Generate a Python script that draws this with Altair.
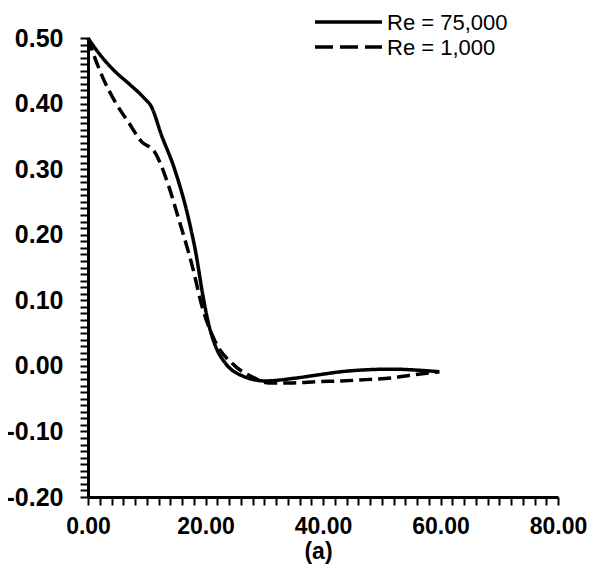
import altair as alt
import pandas as pd

series_names = ["Re = 75,000", "Re = 1,000"]

x_solid = [0, 2, 4.6, 7, 9.6, 10.8, 12.5, 14.7, 17.1, 18.4, 19.5, 20.5, 21.7, 23.3, 26.2, 30.2, 35, 39, 43, 47.4, 52, 55, 59.8]
y_solid = [0.50, 0.475, 0.449, 0.43, 0.408, 0.395, 0.352, 0.301, 0.225, 0.17, 0.11, 0.065, 0.03, 0.005, -0.015, -0.023, -0.019, -0.014, -0.009, -0.006, -0.005, -0.006, -0.009]

x_dash = [0, 1.2, 2.5, 4.6, 7, 9.1, 11.3, 13.7, 15.4, 17.7, 19.5, 21.5, 25, 28, 30.8, 35, 39, 43, 47.4, 52, 55, 59.8]
y_dash = [0.50, 0.469, 0.44, 0.403, 0.37, 0.342, 0.327, 0.275, 0.225, 0.154, 0.088, 0.04, 0.0, -0.017, -0.026, -0.026, -0.024, -0.023, -0.021, -0.018, -0.014, -0.009]

x_ticks = list(range(0, 81, 2))
y_ticks = [round(-0.20 + 0.01 * i, 2) for i in range(71)]

rows = []
for i, (x, y) in enumerate(zip(x_solid, y_solid)):
    rows.append({"x": x, "y": y, "series": series_names[0], "o": i})
for i, (x, y) in enumerate(zip(x_dash, y_dash)):
    rows.append({"x": x, "y": y, "series": series_names[1], "o": i})
df = pd.DataFrame(rows)

FONT = "Liberation Sans"
DASHES = [[1, 0], [13, 6]]
LEGEND_DASHES = [[1, 0], [18, 7]]

lines = alt.Chart(df).mark_line(
    color="black", strokeWidth=3.5, interpolate="monotone"
).encode(
    x=alt.X("x:Q", scale=alt.Scale(domain=[0, 80], nice=False, zero=False),
            axis=alt.Axis(values=x_ticks, title="(a)",
                          labelExpr="datum.value % 20 == 0 ? format(datum.value, '.2f') : ''",
                          labelFont=FONT, labelFontSize=23, labelFontWeight="bold",
                          labelColor="black", labelPadding=10,
                          titleFont=FONT, titleFontSize=23, titleFontWeight="bold",
                          titleColor="black", titlePadding=2, titleX=230,
                          tickColor="black", tickSize=8, tickWidth=2,
                          domainColor="black", domainWidth=3, grid=False,
                          labelOverlap=False, labelFlush=False)),
    y=alt.Y("y:Q", scale=alt.Scale(domain=[-0.20, 0.50], nice=False, zero=False),
            axis=alt.Axis(values=y_ticks, title=None,
                          labelExpr="abs(round(datum.value * 100)) % 10 == 0 ? replace(format(datum.value, '.2f'), '\u2212', '-') : ''",
                          labelFont=FONT, labelFontSize=25, labelFontWeight="bold",
                          labelColor="black", labelPadding=17,
                          tickColor="black", tickSize=8, tickWidth=2,
                          domainColor="black", domainWidth=3, grid=False,
                          labelOverlap=False, labelFlush=False)),
    strokeDash=alt.StrokeDash("series:N",
                              scale=alt.Scale(domain=series_names, range=DASHES),
                              legend=None),
    order="o:Q",
)

layers = [lines]
legend_rows_y = [-16, 9]
for name, dash, ly in zip(series_names, LEGEND_DASHES, legend_rows_y):
    ldf = pd.DataFrame({"label": [name]})
    layers.append(alt.Chart(ldf).mark_rule(color="black", strokeWidth=3.5, strokeDash=dash).encode(
        x=alt.value(227), x2=alt.value(294), y=alt.value(ly)))
    layers.append(alt.Chart(ldf).mark_text(font=FONT, fontSize=22, color="black",
                                           align="left", baseline="middle").encode(
        x=alt.value(299), y=alt.value(ly + 1), text="label:N"))

chart = alt.layer(*layers).properties(
    width=470, height=459,
    autosize=alt.AutoSizeParams(type="none"),
    padding={"left": 80, "top": 30, "right": 29, "bottom": 70},
).configure(background="white").configure_view(stroke=None)

chart.save("out.html", embed_options={"renderer": "svg", "actions": False})
